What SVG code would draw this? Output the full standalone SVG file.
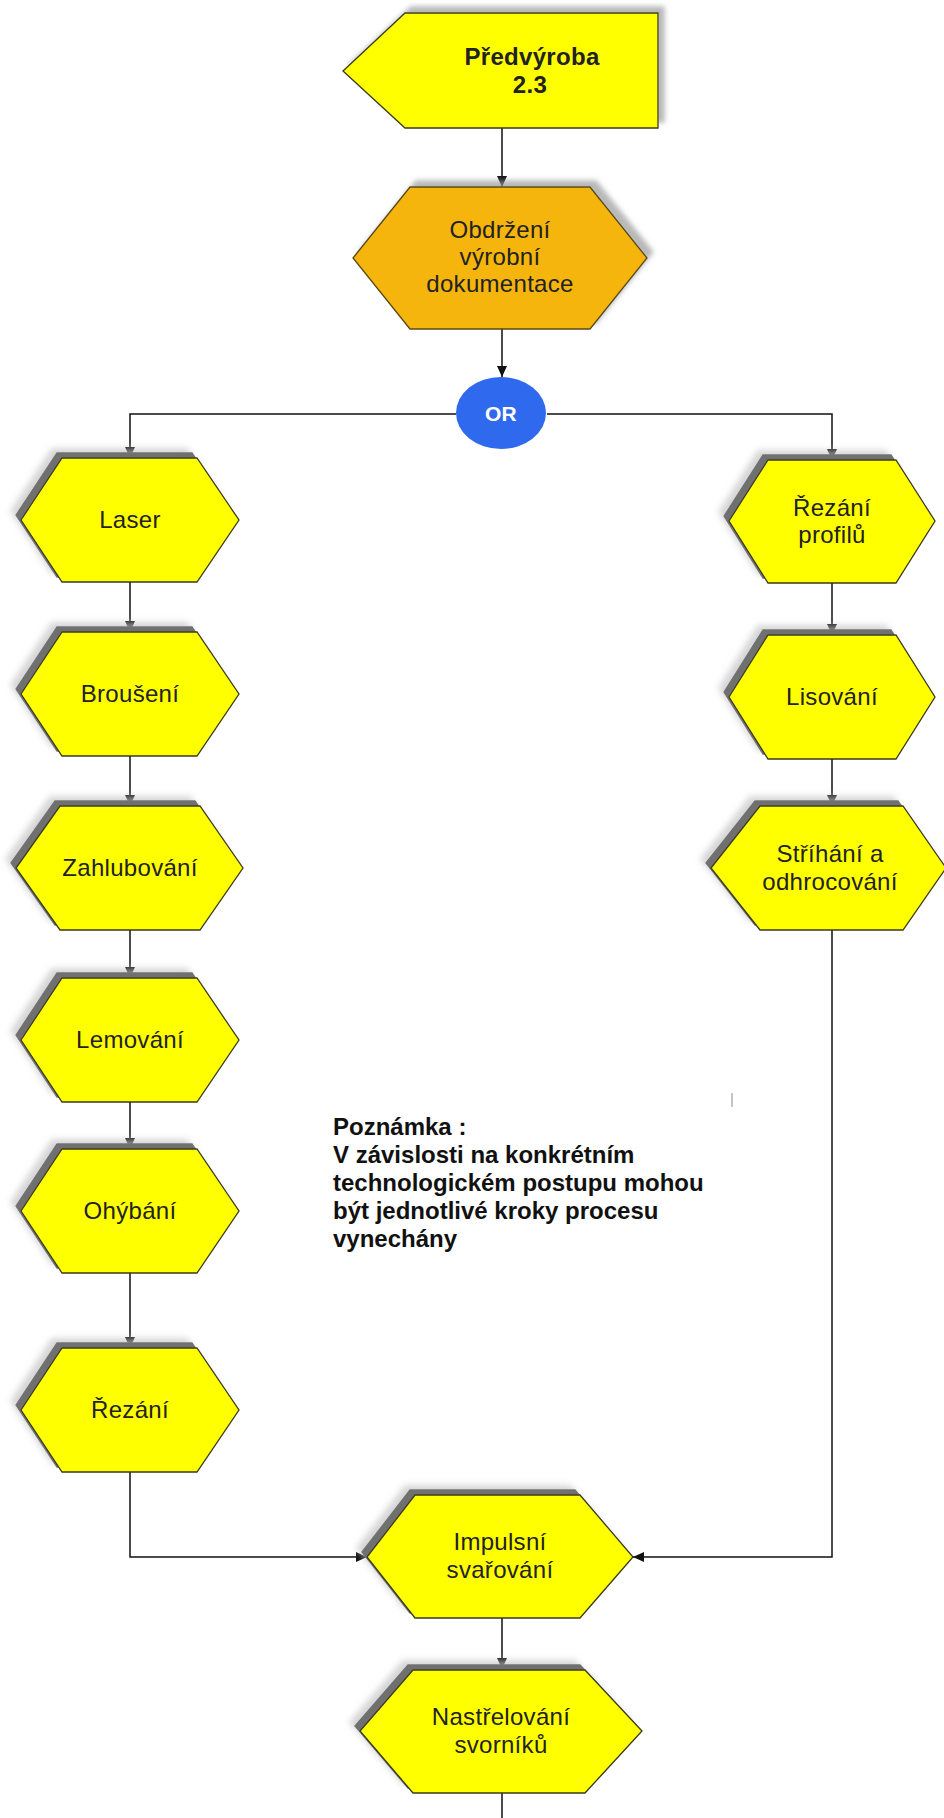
<svg xmlns="http://www.w3.org/2000/svg" width="944" height="1818" viewBox="0 0 944 1818">
  <defs>
    <style>
      .step { fill: #ffff00; stroke: #3a3a1a; stroke-width: 1.3; }
      .event { fill: #f5b50a; stroke: #5a4a10; stroke-width: 1.3; }
      .lbl { font-family: "Liberation Sans", Arial, sans-serif; font-size: 24px; letter-spacing: 0.3px; fill: #222; text-anchor: middle; }
      .bold { font-weight: bold; }
      .note { font-family: "Liberation Sans", Arial, sans-serif; font-size: 24px; font-weight: bold; fill: #111; }
      .flow { fill: none; stroke: #111; stroke-width: 1.5; }
    </style>
    <marker id="arrow" markerUnits="userSpaceOnUse" markerWidth="11" markerHeight="10" refX="11" refY="5" orient="auto">
      <path d="M0,0 L11,5 L0,10 z" fill="#111"/>
    </marker>
    <!-- drop shadow towards upper-left, used by the process steps -->
    <filter id="shadowUL" x="-15%" y="-20%" width="130%" height="140%">
      <feOffset in="SourceAlpha" dx="-10" dy="-9" result="o2"/>
      <feGaussianBlur in="o2" stdDeviation="3" result="b2"/>
      <feFlood flood-color="#c4c4c4" flood-opacity="0.7"/>
      <feComposite in2="b2" operator="in" result="halo"/>
      <feOffset in="SourceAlpha" dx="-5" dy="-5" result="o1"/>
      <feFlood flood-color="#707070"/>
      <feComposite in2="o1" operator="in" result="dark"/>
      <feMerge>
        <feMergeNode in="halo"/>
        <feMergeNode in="dark"/>
        <feMergeNode in="SourceGraphic"/>
      </feMerge>
    </filter>
    <!-- softer shadow towards upper-right for the interface and start event -->
    <filter id="shadowUR" x="-15%" y="-20%" width="130%" height="140%">
      <feOffset in="SourceAlpha" dx="6" dy="-6" result="o1"/>
      <feGaussianBlur in="o1" stdDeviation="2.5" result="b1"/>
      <feFlood flood-color="#9a9a9a" flood-opacity="0.7"/>
      <feComposite in2="b1" operator="in" result="sh"/>
      <feMerge>
        <feMergeNode in="sh"/>
        <feMergeNode in="SourceGraphic"/>
      </feMerge>
    </filter>
  </defs>

  <rect width="944" height="1818" fill="#ffffff"/>

  <!-- connectors -->
  <g id="connectors">
    <path class="flow" d="M502,128 V187" marker-end="url(#arrow)"/>
    <path class="flow" d="M502,329 V377" marker-end="url(#arrow)"/>
    <path class="flow" d="M456,414 H130 V458" marker-end="url(#arrow)"/>
    <path class="flow" d="M547,414 H832 V460" marker-end="url(#arrow)"/>
    <path class="flow" d="M130,582 V632" marker-end="url(#arrow)"/>
    <path class="flow" d="M130,756 V806" marker-end="url(#arrow)"/>
    <path class="flow" d="M130,930 V978" marker-end="url(#arrow)"/>
    <path class="flow" d="M130,1102 V1149" marker-end="url(#arrow)"/>
    <path class="flow" d="M130,1273 V1348" marker-end="url(#arrow)"/>
    <path class="flow" d="M832,583 V635" marker-end="url(#arrow)"/>
    <path class="flow" d="M832,759 V806" marker-end="url(#arrow)"/>
    <path class="flow" d="M130,1472 V1557 H367" marker-end="url(#arrow)"/>
    <path class="flow" d="M832,930 V1557 H633" marker-end="url(#arrow)"/>
    <path class="flow" d="M502,1618 V1669" marker-end="url(#arrow)"/>
    <path class="flow" d="M502,1793 V1818"/>
  </g>

  <!-- process interface -->
  <g id="predvyroba">
    <polygon class="step" filter="url(#shadowUR)" points="343,71 405,13 658,13 658,128 405,128"/>
    <text class="lbl bold" x="532" y="65" letter-spacing="0.4">Předvýroba</text>
    <text class="lbl bold" x="530" y="93">2.3</text>
  </g>

  <!-- start event -->
  <g id="obdrzeni">
    <polygon class="event" filter="url(#shadowUR)" points="353,258 410,187 590,187 647,258 590,329 410,329"/>
    <text class="lbl" x="500" y="238">Obdržení</text>
    <text class="lbl" x="500" y="265">výrobní</text>
    <text class="lbl" x="500" y="292">dokumentace</text>
  </g>

  <!-- OR split -->
  <g id="or">
    <ellipse cx="501" cy="413" rx="45" ry="36" fill="#2f69ee"/>
    <text class="lbl bold" x="501" y="421" style="fill:#ffffff;font-size:21px">OR</text>
  </g>

  <!-- left branch -->
  <g id="laser">
    <polygon class="step" filter="url(#shadowUL)" points="21,520 62,458 197,458 239,520 197,582 62,582"/>
    <text class="lbl" x="130" y="528">Laser</text>
  </g>
  <g id="brouseni">
    <polygon class="step" filter="url(#shadowUL)" points="21,694 62,632 197,632 239,694 197,756 62,756"/>
    <text class="lbl" x="130" y="702">Broušení</text>
  </g>
  <g id="zahlubovani">
    <polygon class="step" filter="url(#shadowUL)" points="16,868 60,806 200,806 243,868 200,930 60,930"/>
    <text class="lbl" x="130" y="876">Zahlubování</text>
  </g>
  <g id="lemovani">
    <polygon class="step" filter="url(#shadowUL)" points="21,1040 62,978 197,978 239,1040 197,1102 62,1102"/>
    <text class="lbl" x="130" y="1048">Lemování</text>
  </g>
  <g id="ohybani">
    <polygon class="step" filter="url(#shadowUL)" points="21,1211 62,1149 197,1149 239,1211 197,1273 62,1273"/>
    <text class="lbl" x="130" y="1219">Ohýbání</text>
  </g>
  <g id="rezani">
    <polygon class="step" filter="url(#shadowUL)" points="21,1410 62,1348 197,1348 239,1410 197,1472 62,1472"/>
    <text class="lbl" x="130" y="1418">Řezání</text>
  </g>

  <!-- right branch -->
  <g id="rezani-profilu">
    <polygon class="step" filter="url(#shadowUL)" points="729,521 768,460 896,460 935,521 896,583 768,583"/>
    <text class="lbl" x="832" y="516">Řezání</text>
    <text class="lbl" x="832" y="543">profilů</text>
  </g>
  <g id="lisovani">
    <polygon class="step" filter="url(#shadowUL)" points="729,697 768,635 896,635 935,697 896,759 768,759"/>
    <text class="lbl" x="832" y="705">Lisování</text>
  </g>
  <g id="strihani">
    <polygon class="step" filter="url(#shadowUL)" points="711,868 760,806 903,806 946,868 903,930 760,930"/>
    <text class="lbl" x="830" y="862">Stříhání a</text>
    <text class="lbl" x="830" y="890">odhrocování</text>
  </g>

  <!-- joined flow -->
  <g id="impulsni">
    <polygon class="step" filter="url(#shadowUL)" points="367,1557 415,1495 580,1495 633,1557 580,1618 415,1618"/>
    <text class="lbl" x="500" y="1550">Impulsní</text>
    <text class="lbl" x="500" y="1578">svařování</text>
  </g>
  <g id="nastrelovani">
    <polygon class="step" filter="url(#shadowUL)" points="360,1731 413,1670 585,1670 642,1731 585,1793 413,1793"/>
    <text class="lbl" x="501" y="1725">Nastřelování</text>
    <text class="lbl" x="501" y="1753">svorníků</text>
  </g>

  <!-- remark -->
  <g id="poznamka">
    <text class="note" x="333" y="1135">Poznámka :</text>
    <text class="note" x="333" y="1163">V závislosti na konkrétním</text>
    <text class="note" x="333" y="1191">technologickém postupu mohou</text>
    <text class="note" x="333" y="1219">být jednotlivé kroky procesu</text>
    <text class="note" x="333" y="1247">vynechány</text>
    <line x1="732" y1="1093" x2="732" y2="1107" stroke="#b0b0b0" stroke-width="1.5"/>
  </g>
</svg>
